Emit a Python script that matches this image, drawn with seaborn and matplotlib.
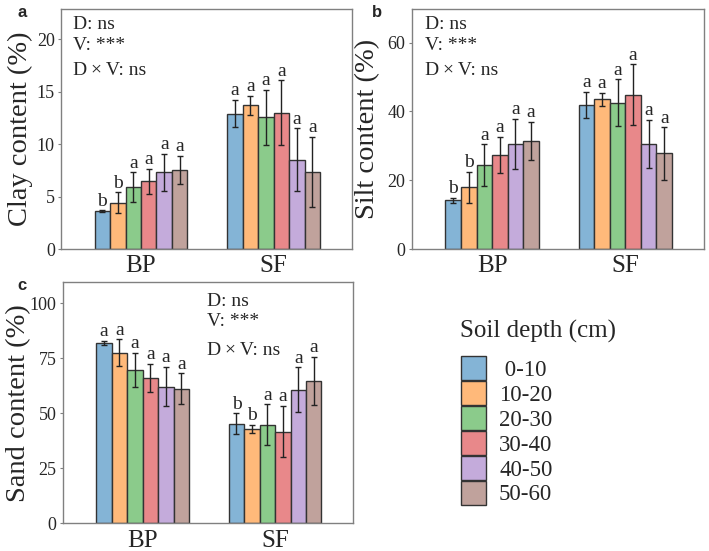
import numpy as np
import pandas as pd
import matplotlib
matplotlib.use("Agg")
import matplotlib.pyplot as plt
import seaborn as sns
from matplotlib.patches import Patch

sites = ["BP", "SF"]
depths = ["0-10", "10-20", "20-30", "30-40", "40-50", "50-60"]

clay_bp = [3.6, 4.4, 5.9, 6.45, 7.3, 7.55]
clay_bp_err = [0.1, 1.0, 1.4, 1.2, 1.8, 1.35]
clay_sf = [12.9, 13.7, 12.55, 13.0, 8.5, 7.35]
clay_sf_err = [1.3, 0.9, 2.65, 3.1, 3.0, 3.35]
clay_letters = list("bbaaaa") + list("aaaaaa")

silt_bp = [14.2, 17.9, 24.3, 27.3, 30.5, 31.4]
silt_bp_err = [0.7, 4.6, 6.1, 5.3, 7.3, 5.6]
silt_sf = [41.9, 43.5, 42.6, 44.9, 30.6, 27.8]
silt_sf_err = [3.8, 2.0, 6.7, 8.8, 7.0, 7.6]
silt_letters = list("bbaaaa") + list("aaaaaa")

sand_bp = [82.1, 77.6, 69.7, 66.1, 62.1, 61.1]
sand_bp_err = [0.9, 6.0, 7.6, 6.4, 9.0, 7.0]
sand_sf = [45.2, 42.9, 44.7, 41.7, 60.6, 64.7]
sand_sf_err = [4.7, 1.9, 9.3, 11.7, 10.2, 11.0]
sand_letters = list("aaaaaa") + list("bbaaaa")

stats_lines = ["D: ns", "V: ***", "D\u2009\u00d7\u2009V: ns"]

colors = ["#84b4d6", "#ffb97a", "#8bcb8b", "#e8888a", "#c4abdb", "#c0a29c"]
edge = "#333333"
spine_c = "#808080"

sns.set_style("ticks")
plt.rcParams["font.family"] = ["Liberation Serif", "DejaVu Serif"]

fig = plt.figure(figsize=(7.09, 5.51), dpi=100)
W, H = 709, 551


def add_ax(l, r, t, b):
    return fig.add_axes([l / W, 1 - b / H, (r - l) / W, (b - t) / H])


def panel(ax, bp, bp_err, sf, sf_err, letters, ylabel, ylim, yticks, lab_x,
          txt_x, txt_ys):
    df = pd.DataFrame({
        "site": np.repeat(sites, len(depths)),
        "depth": depths * 2,
        "value": list(bp) + list(sf),
        "err": list(bp_err) + list(sf_err),
        "letter": letters,
    })
    sns.barplot(data=df, x="site", y="value", hue="depth", order=sites,
                hue_order=depths, palette=colors, saturation=1, width=0.7,
                errorbar=None, edgecolor=edge, linewidth=1.0, ax=ax,
                legend=False)
    bar_conts = list(ax.containers)
    for hi, cont in enumerate(bar_conts):
        for si, bar in enumerate(cont):
            row = df[(df.site == sites[si]) & (df.depth == depths[hi])].iloc[0]
            xc = bar.get_x() + bar.get_width() / 2
            ax.errorbar(xc, row.value, yerr=row.err, fmt="none", ecolor="#222222",
                        elinewidth=1.0, capsize=2.2, capthick=1.0, zorder=5)
            ax.annotate(row.letter, (xc, row.value + row.err), xytext=(0, 0.5),
                        textcoords="offset points", ha="center", va="bottom",
                        fontsize=14)
    ax.set_xlim(-0.603, 1.59)
    ax.set_ylim(*ylim)
    ax.set_yticks(yticks)
    ax.set_xlabel("")
    ax.set_ylabel(ylabel, fontsize=20.5)
    ax.yaxis.set_label_coords(lab_x, 0.5)
    ax.tick_params(axis="y", direction="out", length=2.5, width=0.8,
                   color=spine_c, labelsize=13, pad=2)
    ax.tick_params(axis="x", direction="in", length=3, width=0.8,
                   color=spine_c, labelsize=18, pad=4.5)
    for s in ax.spines.values():
        s.set_visible(True)
        s.set_color(spine_c)
        s.set_linewidth(1.0)
    for line, ty in zip(stats_lines, txt_ys):
        ax.text(txt_x, ty, line, transform=ax.transAxes, fontsize=14,
                ha="left", va="center")


ax_a = add_ax(61, 352, 9, 249)
panel(ax_a, clay_bp, clay_bp_err, clay_sf, clay_sf_err, clay_letters,
      "Clay content (%)", (0, 22.9), [0, 5, 10, 15, 20], -0.096,
      0.04, [0.935, 0.85, 0.742])

ax_b = add_ax(411.7, 704, 9, 249)
panel(ax_b, silt_bp, silt_bp_err, silt_sf, silt_sf_err, silt_letters,
      "Silt content (%)", (0, 69.8), [0, 20, 40, 60], -0.108,
      0.045, [0.935, 0.85, 0.742])

ax_c = add_ax(62.7, 353.3, 282.3, 523.3)
panel(ax_c, sand_bp, sand_bp_err, sand_sf, sand_sf_err, sand_letters,
      "Sand content (%)", (0, 109.5), [0, 25, 50, 75, 100], -0.11,
      0.495, [0.919, 0.837, 0.719])

for lab, (x, y) in zip(["a", "b", "c"], [(17, 17), (372, 17), (17, 290)]):
    fig.text(x / W, 1 - y / H, lab, fontsize=12, fontweight="bold",
             family="Liberation Sans", ha="left", va="baseline")

fig.text(460 / W, 1 - 331.7 / H, "Soil depth (cm)", fontsize=18,
         ha="left", va="center")
handles = [Patch(facecolor=c, edgecolor=edge, linewidth=1.0) for c in colors]
labels = [" 0-10"] + depths[1:]
fs_px = 16.5 * 100 / 72
leg = fig.legend(handles, labels, loc="upper left",
                 bbox_to_anchor=(461 / W, 1 - 355.7 / H), frameon=False,
                 fontsize=16.5, handlelength=25 / fs_px,
                 handleheight=1.27, labelspacing=0.0,
                 handletextpad=13 / fs_px, borderpad=0, borderaxespad=0)

fig.savefig("out.png", dpi=100)
